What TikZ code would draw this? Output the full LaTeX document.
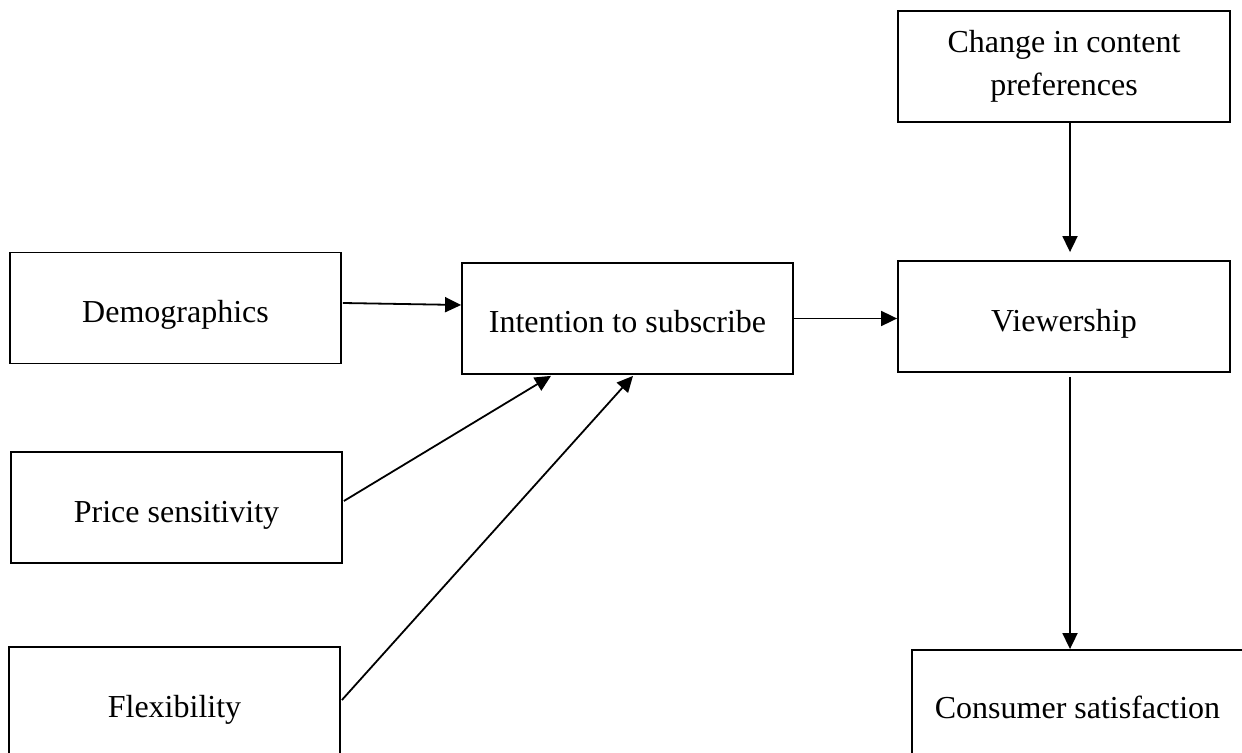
\documentclass[tikz,border=0pt]{standalone}
\usepackage{fontspec}
\setmainfont{Liberation Serif}
\usetikzlibrary{arrows.meta,calc}
\begin{document}
\begin{tikzpicture}[x=0.5pt,y=-0.5pt,
  box/.style={draw,line width=0.9pt,inner sep=0pt,minimum width=165.5pt,minimum height=55.5pt,font=\fontsize{16}{21.5}\selectfont,align=center},
  lowtext/.style={text height=#1,text depth=0pt},
  conn/.style={line width=0.9pt,-{Triangle[length=8pt,width=7.5pt]}}]
\useasboundingbox (0,0) rectangle (1242,753);
\clip (0,0) rectangle (1242,753);
\node[box,lowtext=14.5pt] (demo) at (175.5,308) {Demographics};
\node[box,lowtext=14.5pt] (price) at (176.5,507.5) {Price sensitivity};
\node[box,lowtext=11.5pt,minimum height=58.5pt] (flex) at (174.5,705.5) {Flexibility};
\node[box,lowtext=14.5pt] (int) at (627.5,318.5) {Intention to subscribe};
\node[box,lowtext=15pt,minimum width=166pt] (view) at (1064,316.5) {Viewership};
\node[box,minimum width=166pt] (change) at (1064,66.5) {Change in content\\preferences};
\node[box,lowtext=8pt,minimum height=60pt] (cons) at (1077.5,710) {Consumer satisfaction};
\draw[conn] ($(demo.east)+(1,-5)$) -- ($(int.west)+(0,-13.5)$);
\draw[conn] (int.east) -- (int.east -| view.west);
\draw[conn] ($(price.east)+(1,-6.5)$) -- ($(int.south)+(-76.5,1)$);
\draw[conn] ($(flex.east)+(1,-5.5)$) -- ($(int.south)+(5.5,1)$);
\draw[conn] ($(change.south)+(6,0)$) -- ($(view.north)+(6,-8)$);
\draw[conn] ($(view.south)+(6,4)$) -- ($(cons.north)+(-7.5,0)$);
\end{tikzpicture}
\end{document}
